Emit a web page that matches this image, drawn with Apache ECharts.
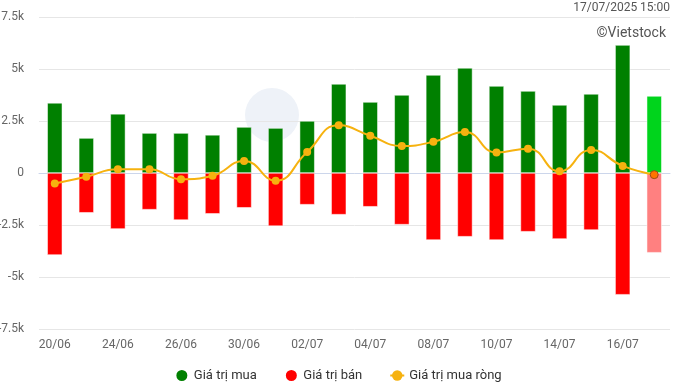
<!DOCTYPE html>
<html><head><meta charset="utf-8">
<script src="https://cdn.jsdelivr.net/npm/echarts@6/dist/echarts.min.js"></script>
<style>html,body{margin:0;padding:0;background:#fff}#c{width:676px;height:385px}</style>
</head><body><div id="c"></div>
<script>
const categories = ['20/06','23/06','24/06','25/06','26/06','27/06','30/06','01/07','02/07','03/07','04/07','07/07','08/07','09/07','10/07','11/07','14/07','15/07','16/07','17/07'];
const buyValues = [3370,1680,2840,1920,1920,1830,2210,2160,2500,4280,3410,3750,4710,5050,4180,3940,3270,3800,6150,3700];
const sellValues = [-3940,-1910,-2690,-1760,-2260,-1960,-1670,-2550,-1520,-2000,-1620,-2480,-3220,-3060,-3220,-2820,-3170,-2740,-5850,-3830];
const netValues = [-500,-180,180,180,-300,-130,580,-370,1010,2290,1790,1300,1500,1970,990,1170,80,1110,340,-80];
const yTicks = [-7500,-5000,-2500,0,2500,5000,7500];

const last = categories.length - 1;
const buyData = buyValues.map((v,i)=> i===last ? {value:v,itemStyle:{color:'#00d41c'}} : v);
const sellData = sellValues.map((v,i)=> i===last ? {value:v,itemStyle:{color:'#ff8080'}} : v);
const netData = netValues.map((v,i)=> i===last ? {value:v,itemStyle:{color:'#ff7400',borderColor:'#9c4a1a',borderWidth:1}} : v);

function fmt(v){ if(v===0) return '0'; return (v/1000)+'k'; }

const chart = echarts.init(document.getElementById('c'));
chart.setOption({
  animation:false,
  textStyle:{fontFamily:'Roboto'},
  grid:{left:39,right:6,top:17,bottom:56,outerBoundsMode:'none',containLabel:false},
  graphic:[
    {type:'circle',shape:{cx:272,cy:115,r:27},style:{fill:'#eef2f8'},z:-1},
    {type:'text',right:6,top:2,style:{text:'17/07/2025 15:00',fontSize:12,fill:'#555',fontFamily:'Roboto'}},
    {type:'text',right:10,top:26,style:{text:'©Vietstock',fontSize:14,fill:'#555',fontFamily:'Roboto'}}
  ],
  legend:{
    top:363,left:'center',itemGap:27,itemWidth:14,itemHeight:13,
    textStyle:{fontSize:13,color:'#333',fontFamily:'Roboto'},
    data:[{name:'Giá trị mua',icon:'circle'},{name:'Giá trị bán',icon:'circle'},{name:'Giá trị mua ròng'}]
  },
  xAxis:{
    type:'category',data:categories,
    axisLine:{lineStyle:{color:'#ccd6eb'}},
    axisTick:{show:false},
    axisLabel:{interval:1,color:'#666',fontSize:12,margin:10}
  },
  yAxis:{
    type:'value',min:-7500,max:7500,interval:2500,
    axisLabel:{formatter:fmt,color:'#666',fontSize:12,margin:15},
    splitLine:{lineStyle:{color:'#e6e6e6'}},
    axisLine:{show:false},axisTick:{show:false}
  },
  series:[
    {name:'Giá trị mua',type:'bar',stack:'s',data:buyData,barWidth:15,itemStyle:{color:'#008000',borderColor:'#fff',borderWidth:0.5}},
    {name:'Giá trị bán',type:'bar',stack:'s',data:sellData,barWidth:15,itemStyle:{color:'#ff0000',borderColor:'#fff',borderWidth:0.5}},
    {name:'Giá trị mua ròng',type:'line',smooth:true,data:netData,symbol:'circle',symbolSize:8,
     lineStyle:{color:'#f6b20f',width:2},itemStyle:{color:'#f6b20f'},z:5}
  ]
});
</script></body></html>
